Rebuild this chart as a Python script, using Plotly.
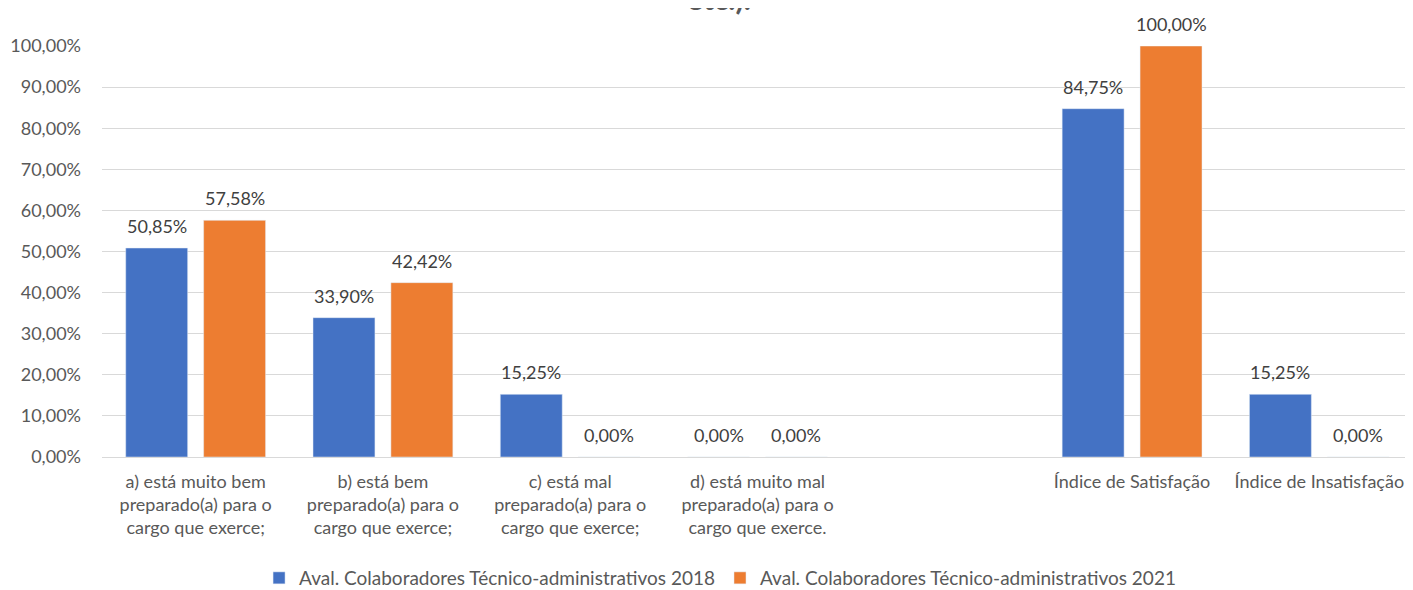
import plotly.graph_objects as go

categories = [
    "a) está muito bem<br>preparado(a) para o<br>cargo que exerce;",
    "b) está bem<br>preparado(a) para o<br>cargo que exerce;",
    "c) está mal<br>preparado(a) para o<br>cargo que exerce;",
    "d) está muito mal<br>preparado(a) para o<br>cargo que exerce.",
    " ",
    "Índice de Satisfação",
    "Índice de Insatisfação",
]
series_2018 = [0.5085, 0.3390, 0.1525, 0.0, None, 0.8475, 0.1525]
series_2021 = [0.5758, 0.4242, 0.0, 0.0, None, 1.0, 0.0]
name_2018 = "Aval. Colaboradores Técnico-administrativos 2018"
name_2021 = "Aval. Colaboradores Técnico-administrativos 2021"
title_tail = "etc.)."

FONT = "Lato"
BARGAP = 0.168
fig = go.Figure()
series = [(name_2018, series_2018, "#4472C4", -1), (name_2021, series_2021, "#ED7D31", 1)]
for name, vals, color, side in series:
    fig.add_trace(go.Bar(x=categories, y=vals, name=name, marker_color=color))
    # data labels placed above each bar (offset = half a bar slot in category units)
    off = side * (1 - BARGAP) / 4
    for i, v in enumerate(vals):
        if v is None:
            continue
        fig.add_annotation(
            x=i + off, y=v, xref="x", yref="y", yshift=22, yanchor="middle",
            text=f"{v * 100:.2f}%".replace(".", ","), showarrow=False,
            font=dict(family=FONT, size=18, color="#404040"),
        )

fig.add_annotation(text="<b>" + title_tail + "</b>", xref="paper", yref="paper",
                   x=(711 - 94) / 1311, y=1.117, yanchor="middle", showarrow=False,
                   font=dict(family=FONT, size=30, color="#595959"))

fig.update_layout(
    width=1405, height=582,
    separators=",.",
    paper_bgcolor="white", plot_bgcolor="white",
    margin=dict(l=94, r=0, t=38, b=133, autoexpand=False),
    bargap=BARGAP, bargroupgap=0.205,
    font=dict(family=FONT, color="#595959"),
    showlegend=True,
    legend=dict(orientation="h", xref="container", x=0.5068, xanchor="center",
                yref="container", y=0.0206, yanchor="middle",
                font=dict(family=FONT, size=19, color="#595959"),
                itemwidth=30, traceorder="normal"),
)
fig.update_yaxes(range=[0, 1.0], dtick=0.1, tickformat=".2%",
                 showgrid=True, gridcolor="#D9D9D9", gridwidth=1,
                 zeroline=False, ticks="", ticklabelstandoff=20,
                 tickfont=dict(family=FONT, size=18, color="#595959"))
fig.update_xaxes(showline=True, linecolor="#D9D9D9", linewidth=1, ticks="",
                 ticklabelstandoff=8,
                 tickfont=dict(family=FONT, size=18, color="#595959"),
                 tickangle=0)

fig.write_html("out.html")
